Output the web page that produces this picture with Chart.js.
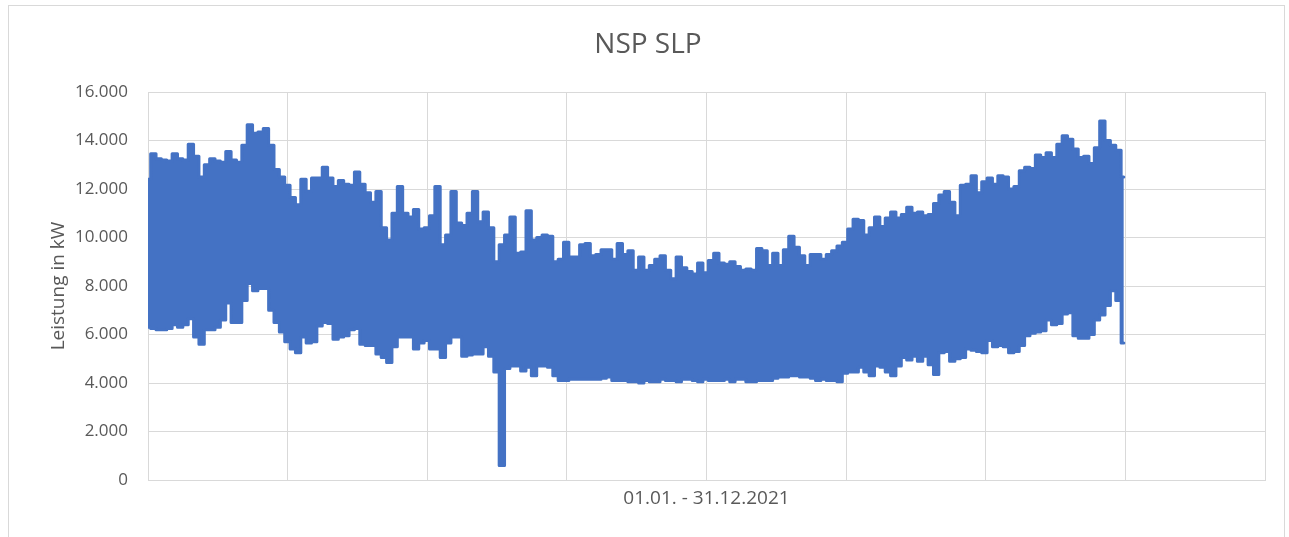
<!DOCTYPE html>
<html lang="de">
<head>
<meta charset="utf-8">
<title>NSP SLP</title>
<script src="https://cdn.jsdelivr.net/npm/chart.js@4.4.1/dist/chart.umd.min.js"></script>
<style>
  html, body { margin: 0; padding: 0; background: #ffffff; }
  #grafik { display: block; }
</style>
</head>
<body>
<canvas id="grafik" width="1289" height="537"></canvas>
<script>
// Texte
const diagrammTitel = "NSP SLP";
const achseY = "Leistung in kW";
const achseX = "01.01. - 31.12.2021";

// Viertelstunden-Index (0 ... 40000), Werte alle 2 Tage (192 Viertelstunden)
const schrittViertelstunden = 192;
const xMax = 40000;
const xSchritt = 5000;
const yMax = 16000;
const ySchritt = 2000;

// obere Hüllkurve (Tagesspitzen) in kW
const maxWerte = [
    12400, 13450, 13250, 13200, 13150, 13450, 13250, 13200, 13850, 13350, 12500, 13000, 13250, 13150, 13100, 13550, 13200, 13100, 13800, 14650, 14300, 14350,
    14500, 13800, 12800, 12500, 12150, 11650, 11350, 12400, 11900, 12450, 12450, 12900, 12450, 12100, 12350, 12200, 12150, 12700, 12200, 11850, 11450, 11900,
    10400, 9900, 11000, 12100, 11000, 10850, 11150, 10350, 10400, 10900, 12100, 9700, 10100, 11900, 10600, 10500, 11000, 11900, 10650, 11050, 10400, 9000,
    9700, 10100, 10850, 9350, 9400, 11100, 9900, 10000, 10100, 10050, 9000, 9100, 9800, 9200, 9200, 9700, 9750, 9250, 9300, 9500, 9500, 9100, 9750, 9300,
    9450, 8650, 9200, 8650, 8850, 9100, 9250, 8650, 8300, 9200, 8750, 8600, 8500, 8950, 8550, 9050, 9350, 8950, 8900, 9000, 8800, 8650,
    8700, 8650, 9550, 9450, 8850, 9350, 8850, 9500, 10050, 9600, 9250, 8850, 9300, 9300, 9100, 9300, 9450, 9650, 9800, 10350, 10750, 10700,
    10100, 10400, 10850, 10450, 10800, 11050, 10800, 10950, 11250, 11000, 11050, 10900, 10950, 11400, 11750, 11900, 11450, 10900, 12150, 12200, 12550, 11850, 12300,
    12450, 12200, 12550, 12500, 12000, 12100, 12750, 12900, 12850, 13400, 13300, 13500, 13300, 13850, 14200, 14050, 13650, 13300, 13350, 13050, 13700, 14800, 14000, 13800, 13600, 12500
];

// untere Hüllkurve (Nachtwerte) in kW
const minWerte = [
    6300, 6250, 6200, 6200, 6250, 6400, 6300, 6400, 6650, 5900, 5600, 6200, 6200, 6300, 6600, 7300, 6500, 6500, 7400, 8100, 7800, 7900,
    7900, 7000, 6500, 6100, 5700, 5400, 5250, 5900, 5650, 5700, 6350, 6500, 6450, 5800, 5900, 5950, 6200, 6250, 5600, 5550, 5550, 5200,
    5050, 4850, 5500, 5900, 5900, 5900, 5400, 5650, 5750, 5400, 5400, 5050, 5650, 5900, 5900, 5100, 5150, 5200, 5200, 5500, 5100, 4450,
    600, 4600, 4700, 4700, 4500, 4650, 4300, 4700, 4700, 4650, 4300, 4100, 4100, 4150, 4150, 4150, 4150, 4150, 4150, 4200, 4250, 4100, 4100, 4100,
    4050, 4050, 4000, 4100, 4050, 4050, 4150, 4100, 4100, 4050, 4150, 4150, 4100, 4050, 4150, 4100, 4100, 4100, 4150, 4050, 4150, 4150,
    4050, 4050, 4100, 4100, 4100, 4200, 4250, 4250, 4300, 4300, 4250, 4250, 4200, 4100, 4150, 4100, 4100, 4050, 4400, 4450, 4450, 4650,
    4450, 4300, 4700, 4650, 4450, 4300, 4700, 5050, 4950, 5100, 4900, 5100, 4750, 4350, 5250, 5300, 4900, 5000, 5050, 5400, 5350, 5300, 5250,
    5750, 5500, 5550, 5500, 5250, 5300, 5550, 5950, 6050, 6100, 6150, 6600, 6400, 6450, 6850, 6900, 5950, 5850, 5850, 6000, 6600, 6800, 7200, 7800, 7400, 5650
];

const farbeLinie = "#4472C4";
const farbeText = "#595959";
const farbeGitter = "#d9d9d9";

const zuPunkten = (werte) => werte.map((w, i) => ({ x: i * schrittViertelstunden, y: w }));

// Rahmen und Titel mittig über dem gesamten Diagrammbereich
const titelPlugin = {
    id: "titel",
    beforeDraw(chart) {
        const ctx = chart.ctx;
        ctx.save();
        ctx.strokeStyle = farbeGitter;
        ctx.lineWidth = 1;
        ctx.strokeRect(8.5, 5.5, 1276, 540);
        ctx.restore();
    },
    afterDraw(chart) {
        const ctx = chart.ctx;
        ctx.save();
        ctx.font = '28px "Open Sans"';
        ctx.fillStyle = farbeText;
        ctx.textAlign = "center";
        ctx.textBaseline = "middle";
        ctx.fillText(diagrammTitel, 648, 45);
        ctx.restore();
    }
};

const linienStil = {
    borderColor: farbeLinie,
    backgroundColor: farbeLinie,
    borderWidth: 3,
    borderJoinStyle: "round",
    borderCapStyle: "round",
    pointRadius: 0,
    stepped: "middle"
};

new Chart(document.getElementById("grafik").getContext("2d"), {
    type: "line",
    data: {
        datasets: [
            { label: "min", data: zuPunkten(minWerte), fill: false, ...linienStil },
            { label: "max", data: zuPunkten(maxWerte), fill: "-1", ...linienStil }
        ]
    },
    options: {
        responsive: false,
        animation: false,
        devicePixelRatio: 1,
        layout: { padding: { left: 0, top: 92, right: 24, bottom: 0 } },
        plugins: {
            legend: { display: false },
            tooltip: { enabled: false }
        },
        scales: {
            x: {
                type: "linear",
                min: 0,
                max: xMax,
                ticks: { display: false, stepSize: xSchritt },
                grid: { color: farbeGitter, drawTicks: false },
                border: { color: farbeGitter },
                title: {
                    display: true,
                    text: achseX,
                    color: farbeText,
                    font: { family: "Open Sans", size: 19 },
                    padding: { top: 0, bottom: 27 }
                },
                afterFit: (scale) => { scale.height = 57; }
            },
            y: {
                min: 0,
                max: yMax,
                ticks: {
                    stepSize: ySchritt,
                    color: farbeText,
                    padding: 20,
                    font: { family: "Open Sans", size: 17 },
                    callback: (v) => v.toLocaleString("de-DE")
                },
                grid: { color: farbeGitter, drawTicks: false },
                border: { color: farbeGitter },
                title: {
                    display: true,
                    text: achseY,
                    color: farbeText,
                    font: { family: "Open Sans", size: 19 },
                    padding: { top: 47, bottom: 0 }
                },
                afterFit: (scale) => { scale.width = 148; }
            }
        }
    },
    plugins: [titelPlugin]
});
</script>
</body>
</html>
